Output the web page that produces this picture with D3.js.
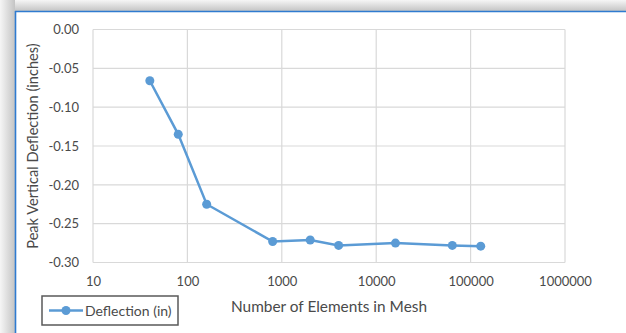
<!DOCTYPE html>
<html>
<head>
<meta charset="utf-8">
<script src="https://cdn.jsdelivr.net/npm/d3@7"></script>
<style>
  body { margin: 0; background: #fff; }
  text { font-family: Lato, "Open Sans", sans-serif; fill: #4a4a4a; }
</style>
</head>
<body>
<div id="chart"></div>
<script>
var elements = [40, 80, 160, 800, 2000, 4000, 16000, 64000, 128000];
var deflection = [-0.066, -0.135, -0.225, -0.273, -0.271, -0.278, -0.275, -0.278, -0.279];
var xTicks = [10, 100, 1000, 10000, 100000, 1000000];
var yTicks = [0, -0.05, -0.10, -0.15, -0.20, -0.25, -0.30];
var seriesName = "Deflection (in)";

var width = 626, height = 333;
var blue = "#5B9BD5";

var svg = d3.select("#chart").append("svg")
    .attr("width", width)
    .attr("height", height);

var defs = svg.append("defs");
var gTop = defs.append("linearGradient").attr("id", "shTop")
    .attr("x1", 0).attr("y1", 0).attr("x2", 0).attr("y2", 1);
gTop.append("stop").attr("offset", "0%").attr("stop-color", "#f6f6f6");
gTop.append("stop").attr("offset", "100%").attr("stop-color", "#c4c4c4");
var gLeft = defs.append("linearGradient").attr("id", "shLeft")
    .attr("x1", 0).attr("y1", 0).attr("x2", 1).attr("y2", 0);
gLeft.append("stop").attr("offset", "0%").attr("stop-color", "#f6f6f6");
gLeft.append("stop").attr("offset", "100%").attr("stop-color", "#c4c4c4");

var x = d3.scaleLog().domain([10, 1000000]).range([93, 565]);
var y = d3.scaleLinear().domain([-0.30, 0]).range([262.5, 29.5]);

// gridlines
svg.append("g")
    .selectAll("line")
    .data(yTicks)
    .enter()
    .append("line")
    .attr("x1", x(10))
    .attr("x2", x(1000000))
    .attr("y1", function (d) { return y(d) })
    .attr("y2", function (d) { return y(d) })
    .attr("stroke", "#d9d9d9")
    .attr("stroke-width", 1.2);

svg.append("g")
    .selectAll("line")
    .data(xTicks)
    .enter()
    .append("line")
    .attr("x1", function (d) { return x(d) })
    .attr("x2", function (d) { return x(d) })
    .attr("y1", y(0))
    .attr("y2", y(-0.30))
    .attr("stroke", "#d9d9d9")
    .attr("stroke-width", 1.2);

// axes (labels only)
var yAxis = svg.append("g")
    .attr("transform", "translate(" + x(10) + ",0)")
    .call(d3.axisLeft(y).tickValues(yTicks).tickSize(0).tickPadding(14)
        .tickFormat(function (d) { return d.toFixed(2) }));
yAxis.select(".domain").remove();
yAxis.selectAll("text").style("font-size", "13px").attr("fill", "#4a4a4a");

var xAxis = svg.append("g")
    .attr("transform", "translate(0," + y(-0.30) + ")")
    .call(d3.axisBottom(x).tickValues(xTicks).tickSize(0).tickPadding(14)
        .tickFormat(function (d) { return String(d) }));
xAxis.select(".domain").remove();
xAxis.selectAll("text").style("font-size", "13px").attr("fill", "#4a4a4a");

// axis titles
svg.append("text")
    .attr("transform", "translate(38,146) rotate(-90)")
    .attr("text-anchor", "middle")
    .style("font-size", "14.6px")
    .text("Peak Vertical Deflection (inches)");

svg.append("text")
    .attr("x", 329)
    .attr("y", 312)
    .attr("text-anchor", "middle")
    .style("font-size", "15.4px")
    .text("Number of Elements in Mesh");

// series
var pts = elements.map(function (d, i) { return [d, deflection[i]] });
var line = d3.line()
    .x(function (d) { return x(d[0]) })
    .y(function (d) { return y(d[1]) });

svg.append("path")
    .datum(pts)
    .attr("d", line)
    .attr("fill", "none")
    .attr("stroke", blue)
    .attr("stroke-width", 2.5);

svg.append("g")
    .selectAll("circle")
    .data(pts)
    .enter()
    .append("circle")
    .attr("cx", function (d) { return x(d[0]) })
    .attr("cy", function (d) { return y(d[1]) })
    .attr("r", 4.5)
    .attr("fill", blue);

// legend
var lg = svg.append("g");
lg.append("rect")
    .attr("x", 42).attr("y", 296)
    .attr("width", 136).attr("height", 29)
    .attr("fill", "#fff")
    .attr("stroke", "#595959")
    .attr("stroke-width", 1.5);
lg.append("line")
    .attr("x1", 49).attr("x2", 83)
    .attr("y1", 310.5).attr("y2", 310.5)
    .attr("stroke", blue).attr("stroke-width", 2.5);
lg.append("circle")
    .attr("cx", 66).attr("cy", 310.5).attr("r", 4.5)
    .attr("fill", blue);
lg.append("text")
    .attr("x", 85).attr("y", 315.5)
    .style("font-size", "14px")
    .text(seriesName);

// window frame / shadow
svg.append("rect")
    .attr("x", 0).attr("y", 0).attr("width", width).attr("height", 11)
    .attr("fill", "url(#shTop)");
svg.append("rect")
    .attr("x", 0).attr("y", 0).attr("width", 15).attr("height", height)
    .attr("fill", "url(#shLeft)");
svg.append("line")
    .attr("x1", 15).attr("x2", width)
    .attr("y1", 11.5).attr("y2", 11.5)
    .attr("stroke", "#2f7bd0").attr("stroke-width", 1.6);
svg.append("line")
    .attr("x1", 15.5).attr("x2", 15.5)
    .attr("y1", 11).attr("y2", height)
    .attr("stroke", "#2f7bd0").attr("stroke-width", 1.6);
</script>
</body>
</html>
